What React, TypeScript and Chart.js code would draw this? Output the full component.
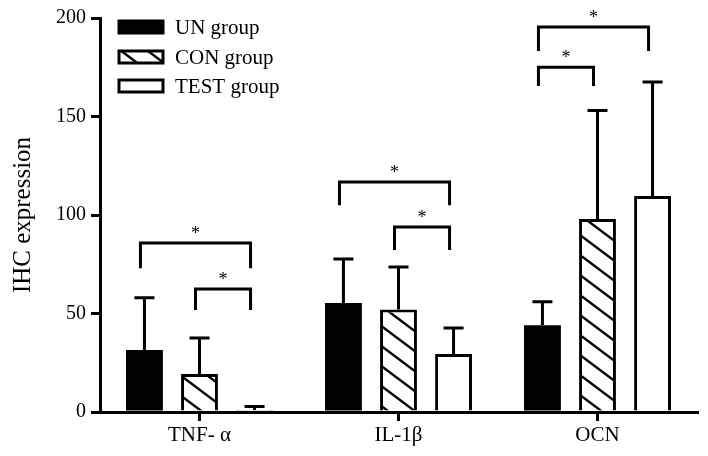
import React, { useEffect, useRef } from "react";
import { Chart, registerables } from "chart.js";

Chart.register(...registerables);

const categories = ["TNF- α", "IL-1β", "OCN"];
const seriesNames = ["UN group", "CON group", "TEST group"];
const unValues = [31.5, 55.3, 44];
const conValues = [19.3, 52, 98];
const testValues = [1, 29.4, 109.6];
const unErr = [26.5, 22.4, 12];
const conErr = [18.3, 21.6, 55];
const testErr = [1.8, 13.2, 57.9];
const yTicks = [0, 50, 100, 150, 200];
// brackets: category index, from series, to series, top value, leg bottom value
const bracketCat = [0, 0, 1, 1, 2, 2];
const bracketFrom = [0, 1, 0, 1, 0, 0];
const bracketTo = [2, 2, 2, 2, 2, 1];
const bracketTop = [85.8, 62.4, 116.8, 93.9, 195.4, 175];
const bracketLeg = [73, 51.8, 105, 82.2, 183.2, 165.5];

const FONT = "'Liberation Serif', 'Times New Roman', serif";

function makeHatch(): CanvasPattern | string {
  const w = 80;
  const h = 20;
  const c = document.createElement("canvas");
  c.width = w;
  c.height = h;
  const g = c.getContext("2d");
  if (!g) return "#fff";
  g.fillStyle = "#fff";
  g.fillRect(0, 0, w, h);
  g.strokeStyle = "#000";
  g.lineWidth = 2.4;
  g.beginPath();
  for (let k = -4; k <= 1; k++) {
    g.moveTo(-5, 0.75 * -5 + k * h);
    g.lineTo(w + 5, 0.75 * (w + 5) + k * h);
  }
  g.stroke();
  const p = g.createPattern(c, "repeat");
  return p || "#fff";
}

export default function App() {
  const ref = useRef<HTMLCanvasElement>(null);
  useEffect(() => {
    document.body.style.margin = "0";
    const hatch = makeHatch();
    const errs = [unErr, conErr, testErr];
    const fills: any[] = ["#000", hatch, "#fff"];

    const overlay = {
      id: "overlay",
      afterDatasetsDraw(chart: any) {
        const ctx = chart.ctx;
        const y = chart.scales.y;
        ctx.save();
        ctx.strokeStyle = "#000";
        ctx.lineWidth = 3;
        ctx.lineCap = "butt";
        // error bars
        for (let d = 0; d < 3; d++) {
          const meta = chart.getDatasetMeta(d);
          meta.data.forEach((bar: any, i: number) => {
            const v = (chart.data.datasets[d].data as number[])[i];
            const top = y.getPixelForValue(v + errs[d][i]);
            ctx.beginPath();
            ctx.moveTo(bar.x, bar.y);
            ctx.lineTo(bar.x, top);
            ctx.moveTo(bar.x - 10, top);
            ctx.lineTo(bar.x + 10, top);
            ctx.stroke();
          });
        }
        // brackets
        ctx.fillStyle = "#000";
        ctx.font = `18px ${FONT}`;
        ctx.textAlign = "center";
        ctx.textBaseline = "middle";
        for (let b = 0; b < bracketCat.length; b++) {
          const x1 = chart.getDatasetMeta(bracketFrom[b]).data[bracketCat[b]].x - 4;
          const x2 = chart.getDatasetMeta(bracketTo[b]).data[bracketCat[b]].x - 4;
          const yt = y.getPixelForValue(bracketTop[b]);
          const yl = y.getPixelForValue(bracketLeg[b]);
          ctx.beginPath();
          ctx.moveTo(x1, yl);
          ctx.lineTo(x1, yt);
          ctx.lineTo(x2, yt);
          ctx.lineTo(x2, yl);
          ctx.stroke();
          ctx.fillText("*", (x1 + x2) / 2, yt - 9);
        }
        // legend
        const lx = 119;
        const ly = [27, 57, 86];
        ctx.font = `21px ${FONT}`;
        ctx.textAlign = "left";
        for (let d = 0; d < 3; d++) {
          ctx.fillStyle = fills[d];
          ctx.fillRect(lx, ly[d] - 6, 44, 12);
          ctx.lineWidth = 3;
          ctx.strokeRect(lx, ly[d] - 6, 44, 12);
          ctx.fillStyle = "#000";
          ctx.fillText(seriesNames[d], 175, ly[d] + 1);
        }
        ctx.restore();
      },
    };

    const chart = new Chart(ref.current as HTMLCanvasElement, {
      type: "bar",
      data: {
        labels: categories,
        datasets: [
          { label: seriesNames[0], data: unValues, backgroundColor: "#000", borderColor: "#000", borderWidth: 0 },
          { label: seriesNames[1], data: conValues, backgroundColor: hatch as any, borderColor: "#000", borderWidth: 3 },
          { label: seriesNames[2], data: testValues, backgroundColor: "#fff", borderColor: "#000", borderWidth: 3 },
        ],
      },
      options: {
        animation: false,
        responsive: false,
        devicePixelRatio: 1,
        layout: { padding: { top: 18, right: 11, left: 0, bottom: 0 } },
        datasets: { bar: { categoryPercentage: 0.83, barPercentage: 0.67 } } as any,
        plugins: { legend: { display: false }, tooltip: { enabled: false } },
        scales: {
          x: {
            afterFit: (s: any) => { s.height = 44; },
            grid: { offset: false, drawOnChartArea: false, drawTicks: true, tickLength: 9, lineWidth: 3, color: "#000" },
            border: { width: 3, color: "#000" },
            ticks: { color: "#000", font: { family: FONT, size: 21 }, padding: 2 },
          },
          y: {
            min: 0,
            max: 200,
            afterFit: (s: any) => { s.width = 100; },
            afterBuildTicks: (s: any) => { s.ticks = yTicks.map((v) => ({ value: v })); },
            grid: { drawOnChartArea: false, drawTicks: true, tickLength: 9, lineWidth: 3, color: "#000" },
            border: { width: 3, color: "#000" },
            ticks: { color: "#000", font: { family: FONT, size: 20 }, padding: 5 },
            title: { display: true, text: "IHC expression", color: "#000", font: { family: FONT, size: 25 }, padding: { top: 8, bottom: 0 } },
          },
        },
      },
      plugins: [overlay],
    });
    return () => chart.destroy();
  }, []);
  return <canvas ref={ref} width={708} height={456} style={{ display: "block", width: 708, height: 456 }} />;
}
